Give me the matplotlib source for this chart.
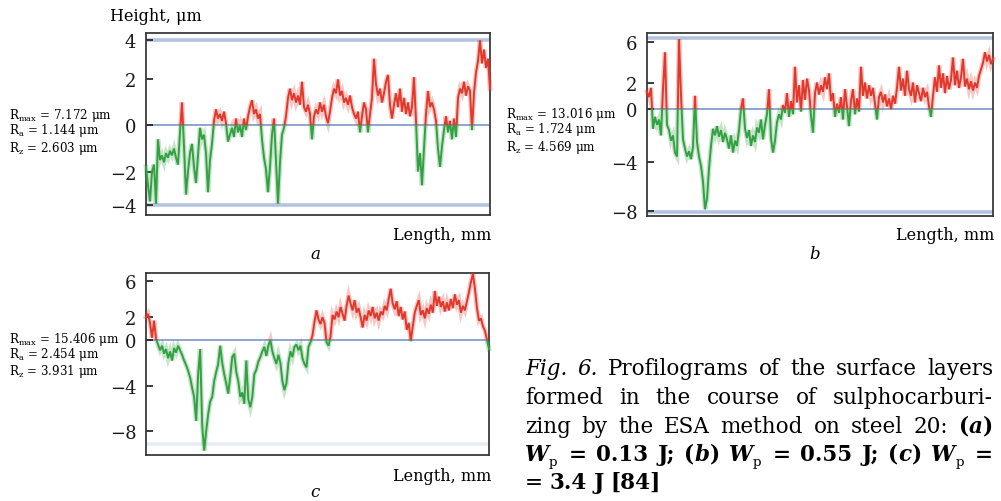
import numpy as np
import matplotlib
matplotlib.use("Agg")
import matplotlib.pyplot as plt
from matplotlib.patches import Rectangle

plt.rcParams['font.family'] = ['DejaVu Serif']
plt.rcParams['mathtext.fontset'] = 'dejavuserif'

# ---------------- data (heights in um, sampled every 2 length units) ----------------
height_a = [-1.8, -2.6, -3.3, -2.0, -1.7, -3.4, -0.6, -1.5, -1.3, -1.6, -1.2, -1.4, -1.1, -1.3, -1.0, -1.4,
            -1.7, -0.3, 1.0, -0.9, -3.0, -2.0, -1.2, -0.8, -1.8, -2.5, -1.3, -0.1, -0.6, -0.4, -1.2, -2.9,
            -1.5, -0.8, 0.2, 0.7, 0.3, 0.5, 0.2, 0.6, 0.1, -0.7, -0.4, -0.1, -0.5, 0.3, -0.3, 0.0,
            -0.5, 0.3, -0.2, 0.4, 0.8, 1.1, 0.5, 0.7, 0.3, 0.5, -0.6, -1.4, -1.9, -2.9, -1.8, -0.4,
            0.3, -1.5, -3.4, -1.6, -0.4, -0.1, 0.4, 1.2, 1.6, 1.1, 1.4, 1.0, 1.3, 0.9, 1.9, 0.8,
            0.6, 0.9, 0.5, -0.6, 0.4, 0.7, 0.5, 1.0, 0.6, 0.9, 0.4, 0.1, 0.6, 1.2, 1.6, 1.4,
            2.0, 1.3, 1.5, 1.0, 1.2, 0.9, 1.3, 0.8, 0.5, 0.3, 0.6, -0.3, 0.4, 1.0, 0.7, -0.3,
            0.5, 1.2, 2.9, 1.8, 1.3, 1.6, 1.0, 1.4, 1.9, 2.2, 0.9, 0.3, 0.9, 1.4, 0.8, 1.6,
            0.6, 1.2, 0.5, 1.0, 0.4, 0.8, 2.1, 0.2, -2.0, -1.2, -2.6, -1.0, 0.5, 1.5, 0.8, 1.0,
            0.7, 0.2, -1.0, -1.8, -0.9, -0.2, 0.4, -0.3, 0.2, -0.6, 0.3, -0.5, 1.2, 1.6, 1.4, 1.9,
            1.3, 1.7, 1.5, -0.2, 1.4, 2.3, 2.8, 3.7, 2.7, 3.3, 2.5, 2.9, 1.6]
height_b = [1.3, 0.9, 1.6, -1.5, -0.6, -1.2, -0.8, -2.0, 1.5, 4.3, -1.2, -1.6, -2.4, -2.0, -3.3, -3.6,
            5.3, 1.0, -2.3, -3.0, -3.6, -3.2, -3.8, -2.9, 1.0, -2.5, -3.6, -4.3, -5.5, -7.6, -6.8, -4.5,
            -2.8, -1.5, -2.0, -1.3, -2.1, -1.6, -2.5, -1.8, -2.3, -3.0, -2.0, -3.3, -2.4, -2.8, -1.6, 0.0,
            0.8, -1.5, -2.2, -1.6, -2.8, -2.0, -2.5, -1.4, -1.8, -0.8, -2.3, -1.2, -0.4, 1.5, -2.2, -3.3,
            -2.4, -1.0, -0.4, -0.8, 0.3, -0.3, 1.2, -0.6, 0.6, -0.4, 3.2, 0.5, 1.8, -0.2, 2.2, 0.7,
            2.3, 1.4, -0.5, -1.8, 1.2, 2.0, 1.1, 1.8, 1.3, 2.4, 1.5, 2.7, 0.6, 1.2, -0.6, 0.4,
            -0.3, 0.9, -0.8, 1.5, 0.2, -1.3, 0.6, 1.5, -0.4, 0.8, -0.2, 3.2, 1.0, 2.0, 0.8, 1.8,
            1.0, 1.6, 0.4, -0.8, 0.9, 1.3, 0.5, 1.1, 0.2, 0.8, 0.0, 1.0, 0.4, 1.6, 3.2, 1.4,
            2.3, 1.0, 2.9, 1.5, 1.0, 2.0, 0.5, 1.8, 1.2, 0.6, 1.6, 0.9, 1.3, 0.2, -0.6, 1.0,
            2.4, 1.3, 3.3, 1.6, 2.7, 1.2, 2.5, 1.5, 2.2, 3.9, 1.8, 2.9, 1.6, 2.4, 3.8, 1.7,
            2.3, 1.5, 2.1, 1.4, 2.0, 1.6, 2.5, 3.0, 3.5, 4.3, 3.6, 4.1, 3.4, 3.8]
height_c = [2.0, 2.3, 1.5, 0.2, 1.7, 0.1, -0.4, -0.9, -0.5, -1.2, -0.8, -1.6, -1.0, -1.8, -0.7, -1.1,
            -0.5, -0.9, -1.3, -1.8, -2.2, -2.7, -3.3, -4.2, -5.0, -7.1, -3.0, -0.8, -7.4, -9.7, -8.0, -6.5,
            -5.4, -5.0, -3.6, -2.8, -2.1, -0.5, -2.0, -3.0, -3.8, -4.7, -3.2, -1.5, -1.2, -2.8, -3.6, -5.0,
            -4.6, -5.6, -1.8, -5.2, -5.9, -5.0, -3.0, -2.6, -1.9, -1.5, -1.0, -0.6, -1.4, -0.5, 0.0, -1.0,
            -1.6, -2.1, -1.3, -2.0, -3.6, -4.4, -3.8, -2.0, -1.0, -1.5, -0.6, -0.4, -0.9, -0.5, -1.6, -2.1,
            -2.4, -0.6, -0.2, 0.4, 1.6, 2.6, 1.8, 1.4, 2.0, 1.5, -0.2, -0.5, 0.3, 2.2, 1.8, 2.5,
            2.0, 2.9, 2.3, 1.7, 3.0, 3.9, 3.2, 2.6, 3.5, 2.4, 2.8, 2.0, 1.1, 2.2, 1.7, 2.6,
            2.1, 2.9, 1.9, 2.4, 1.7, 2.5, 2.2, 3.0, 2.6, 3.6, 4.5, 3.2, 2.7, 3.4, 2.1, 2.9,
            1.8, 2.5, 0.9, 1.5, -0.1, 1.2, 2.4, 3.0, 3.5, 2.2, 2.6, 1.9, 2.8, 2.3, 3.1, 2.4,
            4.3, 3.0, 3.8, 2.9, 3.4, 2.5, 3.3, 2.6, 3.6, 2.8, 4.0, 3.1, 3.5, 2.4, 3.0, 2.6,
            3.4, 4.2, 5.1, 5.8, 4.5, 2.8, 1.7, 1.9, 1.2, 0.8, 0.0, -0.8]
sample_step = 2

stats_a = ["7.172", "1.144", "2.603"]
stats_b = ["13.016", "1.724", "4.569"]
stats_c = ["15.406", "2.454", "3.931"]

envelope_a = [3.72, -3.46]
envelope_b = [5.36, -7.78]
envelope_c = [-9.1]

tick_labels_a = ['4', '2', '0', '\u22122', '\u22124']
tick_labels_b = ['6', '2', '0', '\u22124', '\u22128']
tick_labels_c = ['6', '2', '0', '\u22124', '\u22128']
tick_vals_a = [3.72, 2, 0, -2, -3.46]
tick_vals_b = [5.08, 2, 0, -4, -7.73]
tick_vals_c = [5.2, 2, 0, -4, -8]

panel_letters = ['a', 'b', 'c']

# ---------------- figure ----------------
W, H = 1001, 502
fig = plt.figure(figsize=(W / 100, H / 100), dpi=100)

RED = '#e2382b'
GREEN = '#33a043'
ENV = '#b3c3e1'
ZERO = '#8da5cf'


def px_axes(l, t, r, b):
    return fig.add_axes([l / W, 1 - b / H, (r - l) / W, (b - t) / H])


def put(x, y, s, size, style='normal', weight='normal', ha='left', **kw):
    return fig.text(x / W, 1 - y / H, s, fontsize=size, fontstyle=style,
                    fontweight=weight, ha=ha, va='baseline', **kw)


def panel(rect, heights, ylim, env, env_alpha, ticks, labels):
    ax = px_axes(*rect)
    h = np.asarray(heights, float)
    x = np.arange(len(h)) * sample_step
    ax.set_xlim(0, x[-1])
    ax.set_ylim(*ylim)
    for v in env:
        ax.axhline(v, color=ENV, lw=2.6, alpha=env_alpha, zorder=1)
    ax.axhline(0, color=ZERO, lw=1.4, zorder=1)
    for col, y0, y1 in [(RED, 0, 50), (GREEN, -50, 0)]:
        for lw, al in [(3.4, 0.28), (1.4, 1.0)]:
            ln, = ax.plot(x, h, color=col, lw=lw, alpha=al, zorder=3,
                          solid_joinstyle='miter')
            clip = Rectangle((-10, y0), x[-1] + 20, y1 - y0, transform=ax.transData)
            ln.set_clip_path(clip)
    ax.set_xticks([])
    ax.set_yticks(ticks)
    ax.set_yticklabels(labels)
    ax.tick_params(axis='y', direction='in', length=5, width=1.2, pad=7,
                   labelsize=13, colors='#1a1a1a')
    for sp in ax.spines.values():
        sp.set_color('#3a3a3a')
        sp.set_linewidth(1.3)
    return ax


panel((146, 34, 490, 216), height_a, (-3.89, 4.02), envelope_a, 1.0, tick_vals_a, tick_labels_a)
panel((647, 34, 993, 217), height_b, (-8.11, 5.76), envelope_b, 1.0, tick_vals_b, tick_labels_b)
panel((146, 274, 489, 456), height_c, (-10.09, 5.88), envelope_c, 0.3, tick_vals_c, tick_labels_c)

# axis titles
put(110, 21, 'Height, \u03bcm', 11.5)
for (xr, yb) in [(491, 240), (994, 240), (491, 481)]:
    put(xr, yb, 'Length, mm', 11.5, ha='right')
for (xc, yb), letter in zip([(315, 259), (815, 259), (315, 497)], panel_letters):
    put(xc, yb, letter, 12, style='italic', ha='center')

# roughness statistics
STAT_FS = 8.6
for (x0, ys), st in zip([(9, (119, 134, 152)), (506, (118, 133, 151)), (9, (343, 358, 375))],
                        [stats_a, stats_b, stats_c]):
    put(x0, ys[0], r'$\mathrm{R}_{\mathrm{max}}$ = ' + st[0] + ' \u03bcm', STAT_FS)
    put(x0, ys[1], r'$\mathrm{R}_{\mathrm{a}}$ = ' + st[1] + ' \u03bcm', STAT_FS)
    put(x0, ys[2], r'$\mathrm{R}_{\mathrm{z}}$ = ' + st[2] + ' \u03bcm', STAT_FS)

# ---------------- caption (justified) ----------------
CAP_FS = 15.5
CAP_L, CAP_R = 525, 993
cap_base = [375, 404, 433, 461, 489]
MIN_GAP = 5.0


def R(s):
    return [(s, 'normal', 'normal', 1.0, 0)]


def Bd(s):
    return [(s, 'normal', 'bold', 1.0, 0)]


def Wp():
    return [('W', 'italic', 'bold', 1.0, 0), ('p', 'normal', 'normal', 0.62, 5)]


def paren(letter):
    return [('(', 'normal', 'bold', 1.0, 0), (letter, 'italic', 'bold', 1.0, 0),
            (')', 'normal', 'bold', 1.0, 0)]


cap_lines = [
    ([[('Fig.', 'italic', 'normal', 1.0, 0)], [('6.', 'italic', 'normal', 1.0, 0)]]
     + [R(w) for w in 'Profilograms of the surface layers'.split()], True),
    ([R(w) for w in 'formed in the course of sulphocarburi-'.split()], True),
    ([R(w) for w in 'zing by the ESA method on steel 20:'.split()] + [paren('a')], True),
    ([Wp(), Bd('='), Bd('0.13'), Bd('J;'), paren('b'), Wp(), Bd('='), Bd('0.55'),
      Bd('J;'), paren('c'), Wp(), Bd('=')], True),
    ([R('='), Bd('3.4'), Bd('J'), Bd('[84]')], False),
]

renderer = fig.canvas.get_renderer()
space_px = 0.3 * CAP_FS * 100 / 72
for (words, justify), yb in zip(cap_lines, cap_base):
    objs, widths = [], []
    for word in words:
        segs, wsum = [], 0.0
        for s, st, wt, sc, dy in word:
            t = put(0, yb + dy, s, CAP_FS * sc, st, wt)
            w = t.get_window_extent(renderer).width
            if sc < 1:
                w += 2
            segs.append((t, w, dy))
            wsum += w
        objs.append(segs)
        widths.append(wsum)
    avail = CAP_R - CAP_L
    need = sum(widths) + (len(words) - 1) * MIN_GAP
    scale = min(1.0, (avail - (len(words) - 1) * MIN_GAP) / sum(widths)) if justify else 1.0
    if scale < 1.0:
        for segs in objs:
            for t, w, dy in segs:
                t.set_fontsize(t.get_fontsize() * scale)
        objs = [[(t, w * scale, dy) for t, w, dy in segs] for segs in objs]
        widths = [ww * scale for ww in widths]
    gap = (avail - sum(widths)) / (len(words) - 1) if justify else space_px
    xcur = CAP_L
    for segs, ww in zip(objs, widths):
        xx = xcur
        for t, w, dy in segs:
            t.set_position((xx / W, 1 - (yb + dy) / H))
            xx += w
        xcur += ww + gap

fig.savefig('out.png', dpi=100)
